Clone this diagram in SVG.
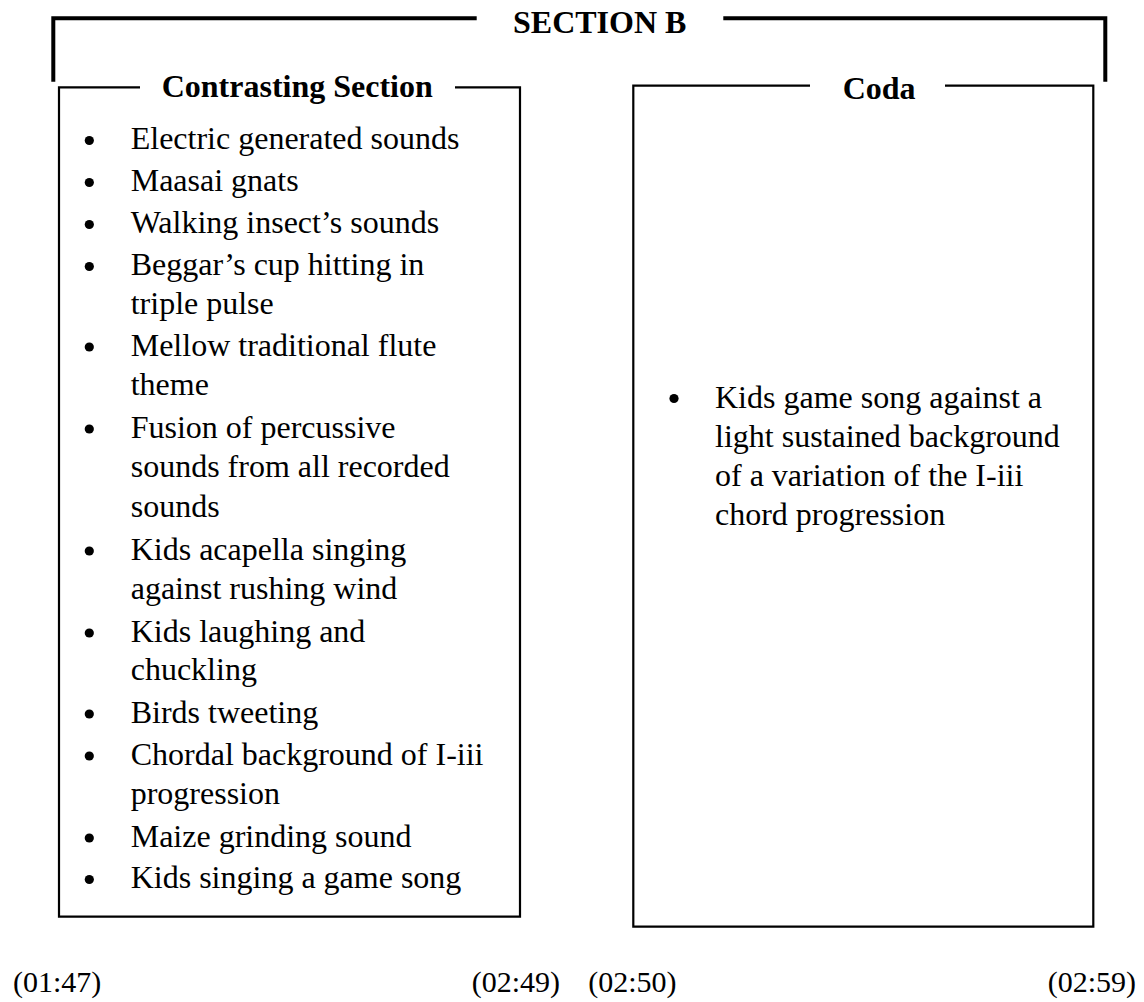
<svg xmlns="http://www.w3.org/2000/svg" width="1144" height="1002" viewBox="0 0 1144 1002">
<style>
  text { font-family: "Liberation Serif", "Times New Roman", serif; fill: #000; }
  .hdr { font-size: 32px; font-weight: bold; }
  .item { font-size: 32px; }
  .time { font-size: 30px; }
  .bracket { fill: none; stroke: #000; stroke-width: 4; }
  .frame { fill: none; stroke: #000; stroke-width: 2.2; }
  .dot { fill: #000; }
</style>
<rect width="1144" height="1002" fill="#fff"/>

<g id="section-b">
  <polyline class="bracket" points="476.7,18.3 53.3,18.3 53.3,81.7"/>
  <polyline class="bracket" points="723.3,18.3 1105.3,18.3 1105.3,81.7"/>
  <text class="hdr" x="513" y="32.5">SECTION B</text>
</g>

<g id="contrasting-section">
  <polyline class="frame" points="140,87.3 59,87.3 59,916.7 520,916.7 520,87.3 455,87.3"/>
  <text class="hdr" x="161.7" y="97">Contrasting Section</text>
  <g class="dot">
    <circle cx="89.3" cy="140.5" r="4.6"/>
    <circle cx="89.3" cy="182.5" r="4.6"/>
    <circle cx="89.3" cy="224.5" r="4.6"/>
    <circle cx="89.3" cy="266.5" r="4.6"/>
    <circle cx="89.3" cy="347" r="4.6"/>
    <circle cx="89.3" cy="429" r="4.6"/>
    <circle cx="89.3" cy="551" r="4.6"/>
    <circle cx="89.3" cy="633" r="4.6"/>
    <circle cx="89.3" cy="714" r="4.6"/>
    <circle cx="89.3" cy="756" r="4.6"/>
    <circle cx="89.3" cy="838" r="4.6"/>
    <circle cx="89.3" cy="879.5" r="4.6"/>
  </g>
  <text class="item" x="130.7" y="149.3">Electric generated sounds</text>
  <text class="item" x="130.7" y="191.3">Maasai gnats</text>
  <text class="item" x="130.7" y="233.3">Walking insect’s sounds</text>
  <text class="item" x="130.7" y="275.3">Beggar’s cup hitting in</text>
  <text class="item" x="130.7" y="314">triple pulse</text>
  <text class="item" x="130.7" y="356">Mellow traditional flute</text>
  <text class="item" x="130.7" y="395">theme</text>
  <text class="item" x="130.7" y="437.7">Fusion of percussive</text>
  <text class="item" x="130.7" y="477.3">sounds from all recorded</text>
  <text class="item" x="130.7" y="516.7">sounds</text>
  <text class="item" x="130.7" y="560">Kids acapella singing</text>
  <text class="item" x="130.7" y="598.5">against rushing wind</text>
  <text class="item" x="130.7" y="641.7">Kids laughing and</text>
  <text class="item" x="130.7" y="680">chuckling</text>
  <text class="item" x="130.7" y="722.7">Birds tweeting</text>
  <text class="item" x="130.7" y="765">Chordal background of I-iii</text>
  <text class="item" x="130.7" y="804">progression</text>
  <text class="item" x="130.7" y="846.7">Maize grinding sound</text>
  <text class="item" x="130.7" y="888.3">Kids singing a game song</text>
</g>

<g id="coda">
  <polyline class="frame" points="810,85.7 633.3,85.7 633.3,926.7 1093.3,926.7 1093.3,85.7 945,85.7"/>
  <text class="hdr" x="842.7" y="99">Coda</text>
  <circle class="dot" cx="674" cy="398.5" r="4.6"/>
  <text class="item" x="715" y="408.3">Kids game song against a</text>
  <text class="item" x="715" y="446.8">light sustained background</text>
  <text class="item" x="715" y="486">of a variation of the I-iii</text>
  <text class="item" x="715" y="525">chord progression</text>
</g>

<g id="timestamps">
  <text class="time" x="13" y="992">(01:47)</text>
  <text class="time" x="471.7" y="992">(02:49)</text>
  <text class="time" x="588.3" y="992">(02:50)</text>
  <text class="time" x="1047.7" y="992">(02:59)</text>
</g>
</svg>
